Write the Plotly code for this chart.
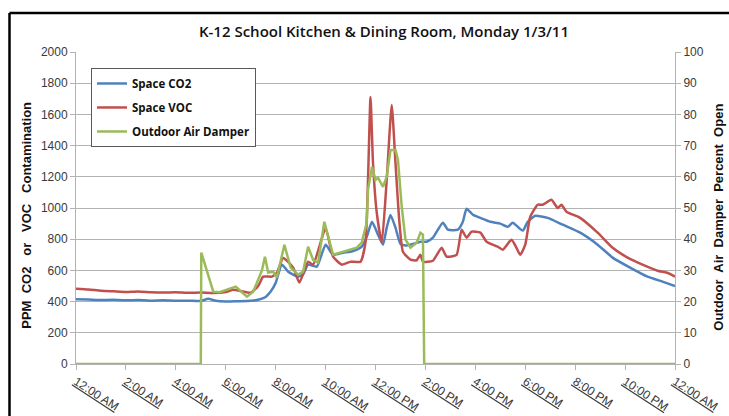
import plotly.graph_objects as go

# ---- data: hours since midnight, Monday 1/3/11 ----
co2_hours = [0.0, 0.5, 1.0, 1.5, 2.0, 2.5, 3.0, 3.5, 4.0, 4.5, 5.0, 5.3, 5.6, 6.0, 6.5,
             7.0, 7.3, 7.6, 7.8, 8.0, 8.25, 8.5, 8.9, 9.1, 9.3, 9.65, 10.0, 10.3, 10.7,
             11.0, 11.25, 11.45, 11.65, 11.86, 12.1, 12.3, 12.45, 12.6, 12.8, 13.0, 13.2,
             13.5, 13.8, 14.05, 14.3, 14.7, 14.9, 15.3, 15.5, 15.65, 15.9, 16.2, 16.6,
             17.0, 17.3, 17.5, 17.9, 18.1, 18.4, 18.9, 19.5, 20.2, 20.9, 21.5, 22.2,
             22.9, 23.5, 24.0]
co2_ppm = [415, 413, 410, 412, 408, 410, 406, 408, 405, 406, 404, 418, 405, 400, 402,
           405, 412, 430, 464, 520, 637, 592, 560, 575, 637, 624, 765, 700, 713,
           720, 733, 752, 816, 912, 829, 765, 874, 955, 874, 770, 760,
           770, 784, 784, 810, 906, 861, 861, 912, 995, 957, 937, 912,
           900, 880, 906, 855, 912, 950, 937, 893, 842, 765, 682, 618,
           560, 528, 500]

voc_hours = [0.0, 0.5, 1.0, 1.5, 2.0, 2.5, 3.0, 3.5, 4.0, 4.5, 5.0, 5.5, 6.0, 6.3, 6.6,
             7.0, 7.3, 7.5, 7.85, 8.05, 8.3, 8.7, 8.95, 9.3, 9.5, 10.0, 10.3, 10.65,
             11.0, 11.4, 11.6, 11.7, 11.8, 11.9, 12.05, 12.25, 12.45, 12.65, 12.8, 12.95,
             13.1, 13.4, 13.65, 13.8, 13.9, 14.3, 14.65, 14.85, 15.25, 15.45, 15.65,
             15.85, 16.2, 16.45, 16.9, 17.1, 17.45, 17.65, 17.8, 18.0, 18.2, 18.5, 18.7,
             19.05, 19.3, 19.45, 19.65, 20.2, 20.9, 21.5, 22.1, 22.7, 23.3, 23.7, 24.0]
voc_ppm = [483, 478, 470, 466, 462, 465, 460, 458, 460, 456, 458, 455, 462, 476, 468,
           457, 500, 560, 560, 585, 680, 618, 522, 656, 637, 870, 688, 637,
           656, 656, 780, 1181, 1712, 1290, 970, 778, 1181, 1660, 1290, 925,
           720, 669, 665, 700, 656, 662, 745, 688, 700, 861, 810,
           848, 842, 784, 752, 733, 797, 745, 700, 765, 944, 1021, 1021,
           1053, 1000, 1021, 976, 937, 842, 745, 682, 637, 598, 585, 560]

damper_hours = [0.0, 5.0, 5.02, 5.3, 5.5, 5.75, 6.2, 6.4, 6.65, 6.85, 7.1, 7.45, 7.57,
                7.7, 7.9, 8.05, 8.35, 8.6, 8.9, 9.1, 9.3, 9.5, 9.7, 9.95, 10.3, 10.7,
                11.25, 11.45, 11.65, 11.7, 11.86, 12.0, 12.1, 12.3, 12.45, 12.6, 12.8,
                12.9, 13.05, 13.2, 13.4, 13.65, 13.8, 13.9, 13.95, 24.0]
damper_pct = [0, 0, 35.7, 28, 23.2, 23, 24.2, 24.8, 23, 21.6, 23.2, 30, 34.4,
              29.3, 29.6, 27.7, 38.2, 30.9, 28.6, 29.6, 37.6, 33.4, 32.5, 45.6, 35, 36,
              37.3, 38.9, 45.3, 55.9, 63.2, 59, 59.7, 56.8, 60, 68.6, 68.6,
              65.5, 50.4, 39.9, 37.3, 38.9, 42.1, 41.5, 0, 0]

tick_hours = [0, 2, 4, 6, 8, 10, 12, 14, 16, 18, 20, 22, 24]
tick_labels = ["12:00 AM", "2:00 AM", "4:00 AM", "6:00 AM", "8:00 AM", "10:00 AM",
               "12:00 PM", "2:00 PM", "4:00 PM", "6:00 PM", "8:00 PM", "10:00 PM",
               "12:00 AM"]

BLUE = "#4F81BD"
RED = "#C0504D"
GREEN = "#9BBB59"
GRID = "#B3B3B3"
TICKFONT = dict(family="Liberation Sans, Arial, sans-serif", size=12, color="#3a3a3a")
TITLEFONT = dict(family="Liberation Sans, Arial, sans-serif", size=13, color="#111111",
                 weight="bold")

fig = go.Figure()
fig.add_trace(go.Scatter(x=co2_hours, y=co2_ppm, name="Space CO2", mode="lines",
                         line=dict(color=BLUE, width=2.5, shape="spline", smoothing=0.5),
                         legendgroup="a"))
fig.add_trace(go.Scatter(x=voc_hours, y=voc_ppm, name="Space VOC", mode="lines",
                         line=dict(color=RED, width=2.5, shape="spline", smoothing=0.5),
                         legendgroup="b"))
fig.add_trace(go.Scatter(x=damper_hours, y=damper_pct, name="Outdoor Air Damper",
                         mode="lines", line=dict(color=GREEN, width=2.5),
                         yaxis="y2", legendgroup="c"))

L, R, T, B = 76, 54, 52, 51.5
fig.update_layout(
    width=729, height=416,
    margin=dict(l=L, r=R, t=T, b=B, autoexpand=False),
    paper_bgcolor="white", plot_bgcolor="white",
    showlegend=True,
    title=dict(text="K-12 School Kitchen & Dining Room, Monday 1/3/11",
               font=dict(family="Open Sans, sans-serif", size=15, color="#111111",
                         weight=600),
               x=(384 - L) / 599, xref="paper", xanchor="center",
               y=1 - 32 / 416, yref="container", yanchor="middle"),
    xaxis=dict(range=[0, 24], tickvals=tick_hours,
               ticktext=["<u>%s</u>" % t for t in tick_labels],
               tickangle=33, tickfont=TICKFONT, automargin=False,
               showgrid=False, zeroline=False,
               showline=True, linecolor=GRID, linewidth=1,
               ticks="outside", ticklen=5, tickcolor=GRID),
    yaxis=dict(range=[0, 2000], dtick=200, tickfont=TICKFONT, automargin=False,
               showgrid=True, gridcolor=GRID, gridwidth=1, zeroline=False,
               showline=True, linecolor=GRID, linewidth=1,
               ticks="outside", ticklen=5, tickcolor=GRID),
    yaxis2=dict(range=[0, 100], dtick=10, tickfont=TICKFONT, overlaying="y",
                side="right", showgrid=False, zeroline=False, automargin=False,
                showline=True, linecolor=GRID, linewidth=1,
                ticks="outside", ticklen=5, tickcolor=GRID),
    legend=dict(x=(91 - L) / 599, y=(364.5 - 68) / 312.5, xanchor="left", yanchor="top",
                bgcolor="white", bordercolor="#595959", borderwidth=1,
                font=dict(family="Open Sans, sans-serif", size=11.5, color="#111111",
                          weight="bold"),
                tracegroupgap=5, itemwidth=30),
)

# axis titles
fig.add_annotation(text="PPM\u00a0\u00a0CO2\u00a0\u00a0 or\u00a0\u00a0 VOC\u00a0\u00a0 Contamination",
                   xref="paper", yref="paper", x=(27 - L) / 599, y=(364.5 - 216) / 312.5,
                   xanchor="center", yanchor="middle", textangle=-90, showarrow=False,
                   font=TITLEFONT)
fig.add_annotation(text="Outdoor\u00a0 Air\u00a0 Damper\u00a0 Percent\u00a0 Open",
                   xref="paper", yref="paper", x=(719 - L) / 599, y=(364.5 - 218) / 312.5,
                   xanchor="center", yanchor="middle", textangle=-90, showarrow=False,
                   font=TITLEFONT)

# outer chart frame (left and top edges visible)
fig.add_shape(type="line", xref="paper", yref="paper",
              x0=(9.5 - L) / 599, x1=(9.5 - L) / 599, y0=-0.3, y1=(364.5 - 13) / 312.5,
              line=dict(color="black", width=2.5))
fig.add_shape(type="line", xref="paper", yref="paper",
              x0=(9.5 - L) / 599, x1=1.2, y0=(364.5 - 13) / 312.5, y1=(364.5 - 13) / 312.5,
              line=dict(color="black", width=2.5))

fig.write_html("out.html")
